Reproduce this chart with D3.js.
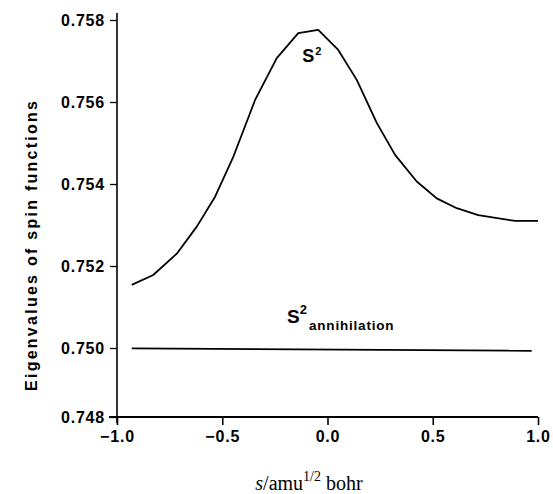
<!DOCTYPE html>
<html>
<head>
<meta charset="utf-8">
<script src="https://cdn.jsdelivr.net/npm/d3@7"></script>
<style>
  body { margin: 0; background: #fff; }
  svg { display: block; }
  .tick text { font-family: "Liberation Sans", Arial, sans-serif; font-weight: bold; font-size: 16px; letter-spacing: 0.8px; fill: #000; }
</style>
</head>
<body>
<div id="container"></div>
<script>
// Width and height
let w = 553;
let h = 494;

// data
let sX     = [-0.93, -0.828, -0.716, -0.621, -0.534, -0.447, -0.344, -0.241, -0.139, -0.044, 0.051, 0.139, 0.234, 0.321, 0.424, 0.519, 0.614, 0.716, 0.891, 1.0];
let s2     = [0.75154, 0.75178, 0.75230, 0.75296, 0.75369, 0.75467, 0.75605, 0.75707, 0.75768, 0.75776, 0.75727, 0.75654, 0.75549, 0.75471, 0.75406, 0.75365, 0.75341, 0.75324, 0.75310, 0.75310];
let annX   = [-0.93, 0.97];
let s2Ann  = [0.74999, 0.74992];
let xTicks = [-1.0, -0.5, 0.0, 0.5, 1.0];
let yTicks = [0.748, 0.750, 0.752, 0.754, 0.756, 0.758];

let x = d3.scaleLinear().domain([-1, 1]).range([117, 538]);
// the scanned axis is a bit squeezed at the bottom, so piecewise
let y = d3.scaleLinear().domain([0.748, 0.750, 0.758]).range([417, 348, 20]);

let svg = d3.select("#container")
  .append("svg")
  .attr("width", w)
  .attr("height", h)

// axes
let xAxis = svg.append("g")
  .attr("transform", "translate(0," + y(0.748) + ")")
  .call(d3.axisBottom(x).tickValues(xTicks).tickFormat(d3.format(".1f")).tickSize(8).tickSizeOuter(0))
xAxis.select(".domain").attr("stroke-width", 1.8).attr("d", "M" + (x(-1) - 8) + ",0H" + x(1))
xAxis.selectAll(".tick line").attr("stroke-width", 1.6)
xAxis.selectAll(".tick text").attr("y", 11).attr("dy", "0.85em")

let yAxis = svg.append("g")
  .attr("transform", "translate(" + x(-1) + ",0)")
  .call(d3.axisLeft(y).tickValues(yTicks).tickFormat(d3.format(".3f")).tickSize(7).tickSizeOuter(0))
yAxis.select(".domain").attr("stroke-width", 1.6).attr("d", "M0," + (y(0.748) + 6) + "V" + (y(0.758) - 7))
yAxis.selectAll(".tick line").attr("stroke-width", 1.3)
yAxis.selectAll(".tick text").attr("x", -12)

// lines
let line = d3.line()
  .x(d => x(d[0]))
  .y(d => y(d[1]));

svg.append("path")
  .datum(sX.map((v, i) => [v, s2[i]]))
  .attr("d", line)
  .attr("fill", "none")
  .attr("stroke", "#000")
  .attr("stroke-width", 1.8)
  .attr("stroke-linejoin", "round")

svg.append("path")
  .datum(annX.map((v, i) => [v, s2Ann[i]]))
  .attr("d", line)
  .attr("fill", "none")
  .attr("stroke", "#000")
  .attr("stroke-width", 1.8)

// curve labels
let lab1 = svg.append("text")
  .attr("x", x(-0.12))
  .attr("y", y(0.75698))
  .style("font-family", "Liberation Sans, Arial, sans-serif")
  .style("font-weight", "bold")
  .style("font-size", "18px")
lab1.append("tspan").text("S")
lab1.append("tspan").attr("dx", 1).attr("dy", -7).style("font-size", "11px").text("2")

let lab2 = svg.append("text")
  .attr("x", x(-0.192))
  .attr("y", y(0.75061))
  .style("font-family", "Liberation Sans, Arial, sans-serif")
  .style("font-weight", "bold")
  .style("font-size", "19px")
lab2.append("tspan").text("S")
lab2.append("tspan").attr("dy", -9).style("font-size", "13px").text("2")
lab2.append("tspan").attr("dy", 16).attr("dx", 2).style("font-size", "13.5px").style("letter-spacing", "0.8px").text("annihilation")

// axis titles
svg.append("text")
  .attr("transform", "translate(37,246) rotate(-90)")
  .attr("text-anchor", "middle")
  .attr("textLength", 290)
  .attr("lengthAdjust", "spacing")
  .style("font-family", "Liberation Sans, Arial, sans-serif")
  .style("font-weight", "bold")
  .style("font-size", "16px")
  .text("Eigenvalues of spin functions")

let xt = svg.append("text")
  .attr("x", 309)
  .attr("y", 490)
  .attr("text-anchor", "middle")
  .style("font-family", "Liberation Serif, Times New Roman, serif")
  .style("font-size", "20px")
xt.append("tspan").style("font-style", "italic").text("s")
xt.append("tspan").text("/amu")
xt.append("tspan").attr("dy", -9).style("font-size", "14px").text("1/2")
xt.append("tspan").attr("dy", 9).text(" bohr")
</script>
</body>
</html>
